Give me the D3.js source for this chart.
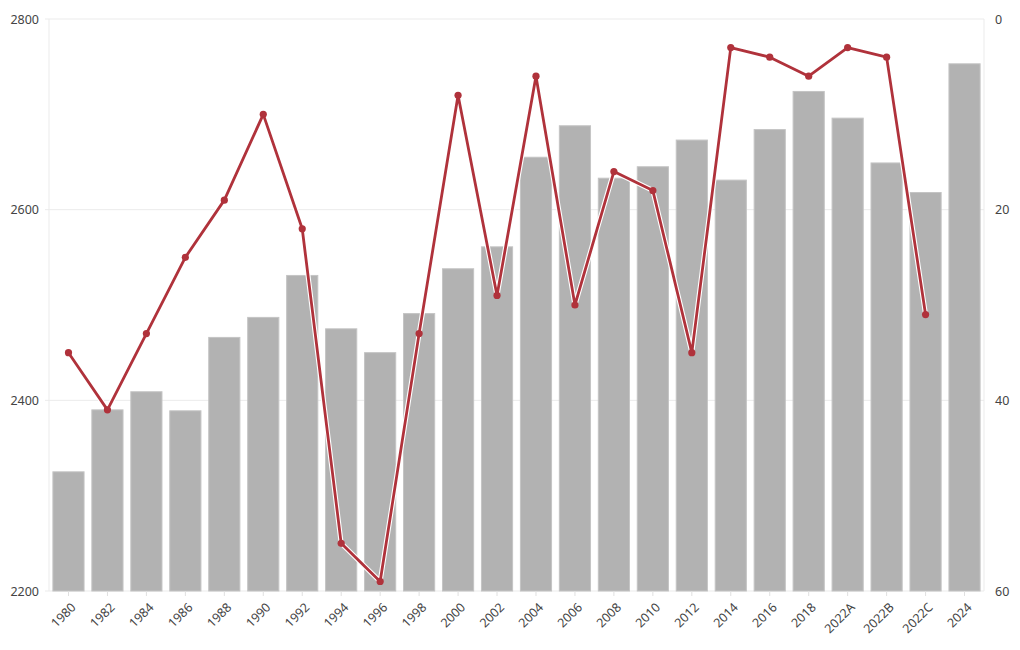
<!DOCTYPE html>
<html><head><meta charset="utf-8">
<script src="https://cdn.jsdelivr.net/npm/d3@7"></script>
<style>
body{margin:0;background:#fff;font-family:"Noto Sans",sans-serif;}
.axis text{fill:#444;font-size:12.5px;font-family:"Noto Sans",sans-serif;}
</style></head><body>
<svg id="chart" width="1020" height="650"></svg>
<script>
const categories = ["1980","1982","1984","1986","1988","1990","1992","1994","1996","1998","2000","2002","2004","2006","2008","2010","2012","2014","2016","2018","2022A","2022B","2022C","2024"];
const barValues = [2325,2390,2409,2389,2466,2487,2531,2475,2450,2491,2538,2561,2655,2688,2633,2645,2673,2631,2684,2724,2696,2649,2618,2753];
const lineValues = [35,41,33,25,19,10,22,55,59,33,8,29,6,30,16,18,35,3,4,6,3,4,31,null];
const leftTicks = [2200,2400,2600,2800];
const rightTicks = [0,20,40,60];

const svg = d3.select("#chart");
const m = {left:49, right:36, top:19, bottom:59};
const W = 1020, H = 650;
const x = d3.scaleBand().domain(categories).range([m.left, W - m.right]).paddingInner(0.2).paddingOuter(0.1);
const yL = d3.scaleLinear().domain([2200,2800]).range([H - m.bottom, m.top]);
const yR = d3.scaleLinear().domain([0,60]).range([m.top, H - m.bottom]);

svg.append("g").selectAll("line").data(leftTicks).join("line")
  .attr("x1", m.left - 4).attr("x2", W - m.right)
  .attr("y1", d => yL(d)).attr("y2", d => yL(d))
  .attr("stroke", "#ebebeb").attr("stroke-width", 1);
svg.append("line").attr("x1", m.left).attr("x2", m.left).attr("y1", m.top).attr("y2", H - m.bottom).attr("stroke", "#ebebeb");
svg.append("line").attr("x1", W - m.right).attr("x2", W - m.right).attr("y1", m.top).attr("y2", H - m.bottom).attr("stroke", "#ebebeb");

svg.append("g").selectAll("rect").data(categories).join("rect")
  .attr("x", d => x(d)).attr("width", x.bandwidth())
  .attr("y", (d,i) => yL(barValues[i]))
  .attr("height", (d,i) => yL(2200) - yL(barValues[i]))
  .attr("fill", "#b0b0b0").attr("fill-opacity", 0.97)
  .attr("stroke", "#c4c4c4").attr("stroke-width", 1);

const axL = svg.append("g").attr("class","axis").attr("transform", `translate(${m.left},0)`)
  .call(d3.axisLeft(yL).tickValues(leftTicks).tickSize(0).tickPadding(10).tickFormat(d3.format("d")));
axL.select(".domain").remove();
const axR = svg.append("g").attr("class","axis").attr("transform", `translate(${W - m.right},0)`)
  .call(d3.axisRight(yR).tickValues(rightTicks).tickSize(0).tickPadding(11));
axR.select(".domain").remove();
const axB = svg.append("g").attr("class","axis").attr("transform", `translate(0,${H - m.bottom})`)
  .call(d3.axisBottom(x).tickSize(5).tickPadding(4));
axB.select(".domain").remove();
axB.selectAll(".tick line").attr("stroke", "#e0e0e0");
axB.selectAll("text").attr("text-anchor", "end").attr("x", 0).attr("y", 0).attr("dy", "0.35em")
  .attr("transform", "translate(5,14) rotate(-45)");

const pts = categories.map((c,i) => ({c, v: lineValues[i]})).filter(d => d.v != null);
const line = d3.line().x(d => x(d.c) + x.bandwidth()/2).y(d => yR(d.v));
svg.append("path").datum(pts).attr("d", line).attr("fill","none")
  .attr("stroke","#fff").attr("stroke-width", 5).attr("stroke-linejoin","round");
svg.append("path").datum(pts).attr("d", line).attr("fill","none")
  .attr("stroke","#b0323b").attr("stroke-width", 2.8).attr("stroke-linejoin","round");
svg.append("g").selectAll("circle").data(pts).join("circle")
  .attr("cx", d => x(d.c) + x.bandwidth()/2).attr("cy", d => yR(d.v))
  .attr("r", 3.6).attr("fill", "#b0323b");
</script></body></html>
